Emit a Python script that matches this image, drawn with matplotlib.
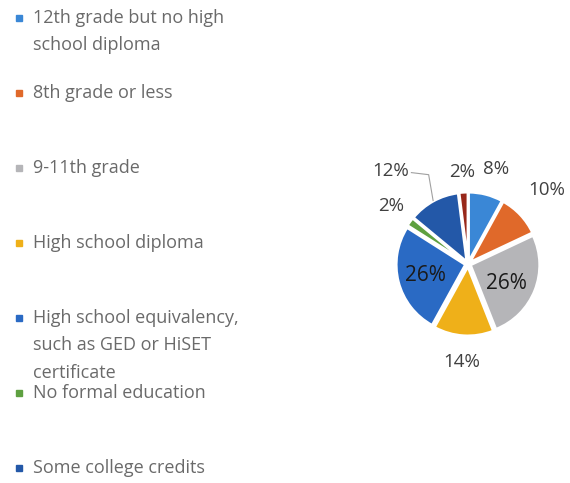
import matplotlib
matplotlib.use("Agg")
import matplotlib.pyplot as plt
import numpy as np

categories = [
    "12th grade but no high\nschool diploma",
    "8th grade or less",
    "9-11th grade",
    "High school diploma",
    "High school equivalency,\nsuch as GED or HiSET\ncertificate",
    "No formal education",
    "Some college credits",
    "Other",
]
values = [8, 10, 26, 14, 26, 2, 12, 2]
colors = ["#3A87D6", "#E0692A", "#B5B5B8", "#EFB019", "#2A6AC4", "#5EA040", "#2358A8", "#98281A"]
legend_count = 7

W, H = 570, 483
fig = plt.figure(figsize=(W / 100, H / 100), dpi=100)
fig.patch.set_facecolor("white")
FONT = "Open Sans"

# Pie axes
cx, cy, rpx = 468, 264, 69
half = 1.9
ax = fig.add_axes([(cx - half * rpx) / W, (H - cy - half * rpx) / H, 2 * half * rpx / W, 2 * half * rpx / H])

wedges, _ = ax.pie(values, colors=colors, startangle=90, counterclock=False,
                   explode=[0.04] * len(values), radius=1.0,
                   wedgeprops=dict(edgecolor="white", linewidth=1.8))
ax.set_xlim(-half, half)
ax.set_ylim(-half, half)
ax.set_aspect("equal")
ax.axis("off")

label_dist = [1.43, 1.56, 0.62, 1.43, 0.64, 1.40, 1.75, 1.34]
label_dang = [-2, 0, -5, 0, 1, -1, 11, 0]
label_col = ["#404040", "#404040", "#1a1a1a", "#404040", "#1a1a1a", "#404040", "#404040", "#404040"]
label_size = [13.5, 13.5, 15, 13.5, 15, 13.5, 13.5, 13.5]
for i, (w, v) in enumerate(zip(wedges, values)):
    mid = (w.theta1 + w.theta2) / 2 + label_dang[i]
    a = np.deg2rad(mid)
    d = label_dist[i]
    ax.text(d * np.cos(a), d * np.sin(a), f"{v}%", ha="center", va="center",
            fontsize=label_size[i], color=label_col[i], family=FONT)
    if i == 6:
        # leader line
        m2 = np.deg2rad((w.theta1 + w.theta2) / 2)
        x0 = d * np.cos(a) + 0.3
        y0 = d * np.sin(a) - 0.02
        xe, ye = 1.05 * np.cos(m2), 1.05 * np.sin(m2)
        ax.plot([x0, x0 + 0.25, xe], [y0, y0 - 0.03, ye], color="#a0a0a0", lw=0.8)

# Legend (manual)
item_y0 = 18
item_step = 75
line_step = 27.5
for i in range(legend_count):
    y = item_y0 + i * item_step
    fig.patches.append(plt.Rectangle(((19 - 3) / W, (H - y - 3) / H), 6 / W, 6 / H,
                                     transform=fig.transFigure, color=colors[i], figure=fig))
    for j, line in enumerate(categories[i].split("\n")):
        fig.text(33 / W, (H - y - j * line_step) / H, line, ha="left", va="center",
                 fontsize=13, color="#6a6a6a", family=FONT)

fig.savefig("out.png", dpi=100, facecolor="white")
